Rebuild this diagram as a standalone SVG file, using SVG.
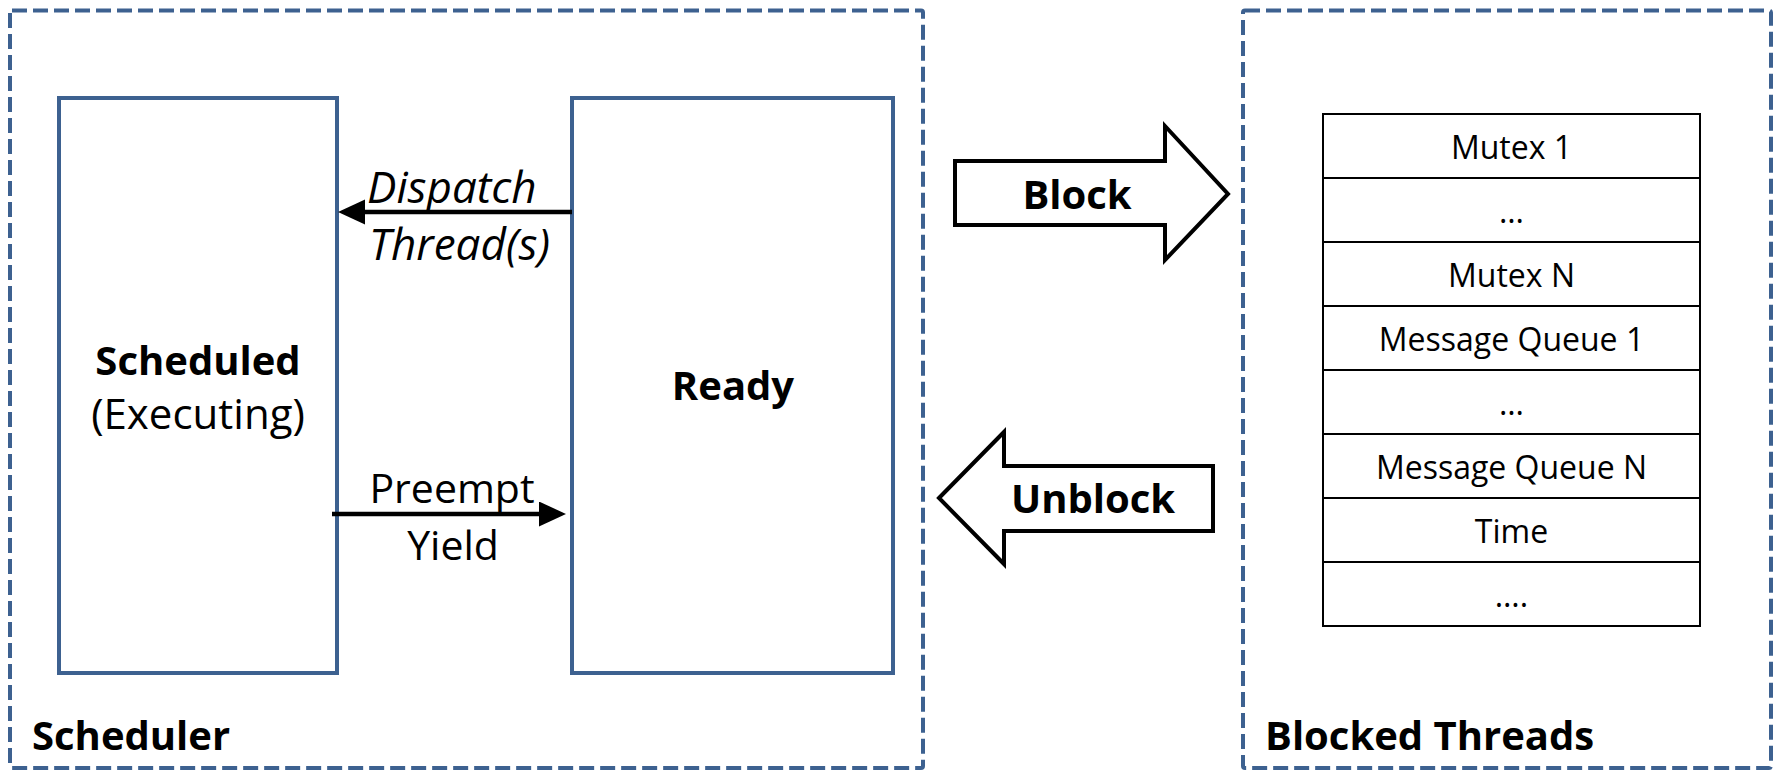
<svg xmlns="http://www.w3.org/2000/svg" width="1781" height="770" viewBox="0 0 1781 770">
  <style>
    .frame { fill: none; stroke: #3D6190; stroke-width: 4; stroke-dasharray: 15 6; }
    .state { fill: #FFFFFF; stroke: #3D6190; stroke-width: 4; }
    .cell { fill: #FFFFFF; stroke: #000000; stroke-width: 2; }
    .big { fill: none; stroke: #000000; stroke-width: 4; stroke-linejoin: miter; }
    .link { fill: none; stroke: #000000; stroke-width: 4.5; }
    text { font-family: "Open Sans", "Noto Sans", "Liberation Sans", sans-serif; fill: #000000; }
    .title { font-size: 40px; font-weight: bold; }
    .label { font-size: 41px; }
    .sub { font-size: 42px; }
    .em { font-size: 44px; font-style: italic; }
    .row { font-size: 32px; text-anchor: middle; }
    .mid { text-anchor: middle; }
  </style>
  <defs>
    <marker id="head" markerUnits="userSpaceOnUse" markerWidth="28" markerHeight="26" refX="0" refY="12.5" orient="auto">
      <path d="M0,0 L27,12.5 L0,25 Z" fill="#000000"/>
    </marker>
  </defs>

  <rect width="1781" height="770" fill="#FFFFFF"/>

  <!-- Scheduler frame -->
  <g id="scheduler">
    <rect class="frame" x="10" y="10.5" width="913" height="757.5" rx="2"/>
    <text class="title" x="32" y="750">Scheduler</text>
  </g>

  <!-- Blocked threads frame -->
  <g id="blocked-threads">
    <rect class="frame" x="1243" y="10.5" width="528" height="757.5" rx="2"/>
    <text class="title" x="1265" y="750">Blocked Threads</text>
  </g>

  <!-- Scheduled state -->
  <g id="scheduled">
    <rect class="state" x="59" y="98" width="278" height="575"/>
    <text class="title mid" x="198" y="375">Scheduled</text>
    <text class="sub mid" x="198" y="429">(Executing)</text>
  </g>

  <!-- Ready state -->
  <g id="ready">
    <rect class="state" x="572" y="98" width="321" height="575"/>
    <text class="title mid" x="733" y="400">Ready</text>
  </g>

  <!-- Wait list table -->
  <g id="wait-list">
    <rect class="cell" x="1323" y="114" width="377" height="64"/>
    <rect class="cell" x="1323" y="178" width="377" height="64"/>
    <rect class="cell" x="1323" y="242" width="377" height="64"/>
    <rect class="cell" x="1323" y="306" width="377" height="64"/>
    <rect class="cell" x="1323" y="370" width="377" height="64"/>
    <rect class="cell" x="1323" y="434" width="377" height="64"/>
    <rect class="cell" x="1323" y="498" width="377" height="64"/>
    <rect class="cell" x="1323" y="562" width="377" height="64"/>
    <text class="row" x="1511.5" y="159">Mutex 1</text>
    <text class="row" x="1511.5" y="223">…</text>
    <text class="row" x="1511.5" y="287">Mutex N</text>
    <text class="row" x="1511.5" y="351">Message Queue 1</text>
    <text class="row" x="1511.5" y="415">…</text>
    <text class="row" x="1511.5" y="479">Message Queue N</text>
    <text class="row" x="1511.5" y="543">Time</text>
    <text class="row" x="1511.5" y="607">….</text>
  </g>

  <!-- Transitions -->
  <g id="connectors">
    <line class="link" x1="572" y1="212" x2="365" y2="212" marker-end="url(#head)"/>
    <text class="em" x="367" y="203">Dispatch</text>
    <text class="em" x="369" y="260">Thread(s)</text>

    <line class="link" x1="332" y1="514" x2="539" y2="514" marker-end="url(#head)"/>
    <text class="label mid" x="452" y="503">Preempt</text>
    <text class="label mid" x="453" y="560">Yield</text>

    <g id="block">
      <path class="big" d="M955,161 L1165,161 L1165,126 L1228,194 L1165,260 L1165,225 L955,225 Z"/>
      <text class="title mid" x="1077" y="209">Block</text>
    </g>
    <g id="unblock">
      <path class="big" d="M939,498 L1004,432 L1004,466 L1213,466 L1213,531 L1004,531 L1004,564 Z"/>
      <text class="title mid" x="1093" y="513">Unblock</text>
    </g>
  </g>
</svg>
